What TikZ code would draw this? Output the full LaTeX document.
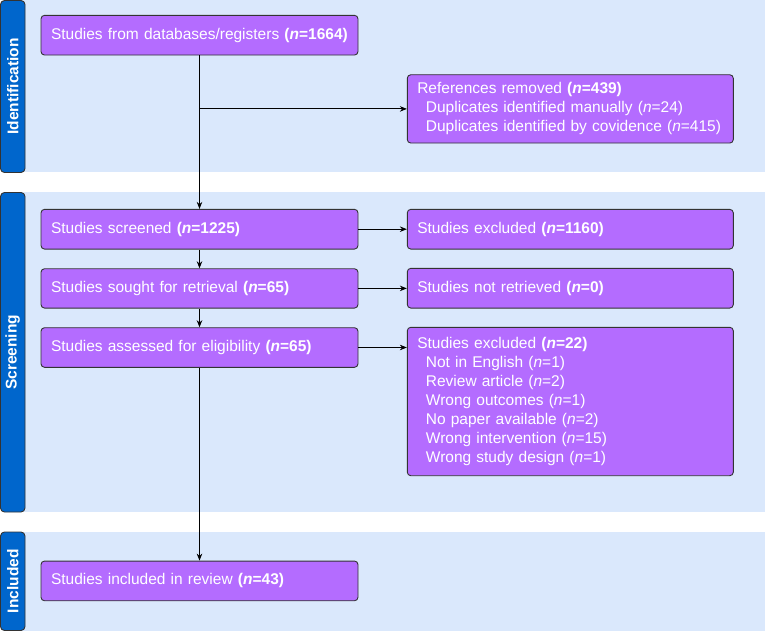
\documentclass[tikz,border=0pt]{standalone}
\usepackage{fontspec}
\setmainfont{Liberation Sans}
\usetikzlibrary{arrows.meta}
\definecolor{bandblue}{HTML}{DAE8FC}
\definecolor{tabblue}{HTML}{0066CC}
\definecolor{boxpurple}{RGB}{180,108,255}
\definecolor{boxline}{HTML}{333333}
\tikzset{
  x=1pt, y=-1pt,
  box/.style={draw=boxline, fill=boxpurple, rounded corners=3.5pt, line width=0.9pt,
    text=white, inner xsep=10pt, inner ysep=0pt, align=left,
    font=\fontsize{15.5}{19}\selectfont},
  leftbox/.style={box, minimum width=317pt, text width=297pt},
  rightbox/.style={box, minimum width=326pt, text width=306pt},
  band/.style={fill=bandblue, draw=none},
  tab/.style={draw=black!80, fill=tabblue, rounded corners=4pt, line width=0.9pt},
  tablabel/.style={text=white, rotate=90, font=\fontsize{15.5}{19}\selectfont\bfseries},
  arr/.style={-{Stealth[length=7pt,width=5.5pt]}, line width=0.8pt, draw=black}
}
\newcommand{\nn}{\textit{n}}
\newcommand{\ind}{\hspace*{8.6pt}}
\begin{document}
\begin{tikzpicture}
\useasboundingbox (0,0) rectangle (765,631);
% bands
\fill[band] (10,0) rectangle (765,172.5);
\fill[band] (10,192.5) rectangle (765,512);
\fill[band] (10,532) rectangle (765,631);
% tabs
\draw[tab] (0.5,0.5) rectangle (25,172.5);
\draw[tab] (0.5,192.5) rectangle (25,512);
\draw[tab] (0.5,532) rectangle (25,630.5);
\node[tablabel] (lid) at (12.75,86.5) {Identification};
\node[tablabel] (lsc) at (12.75,352.25) {Screening};
\node[tablabel] (lin) at (12.75,581.25) {Included};
% boxes
\node[leftbox, minimum height=39.7pt] (src) at (199.5,35.2) {Studies from databases/registers \textbf{(\nn=1664)}};
\node[rightbox, minimum height=68.3pt] (refs) at (570.3,108.9) {References removed \textbf{(\nn=439)}\\
\ind Duplicates identified manually (\nn=24)\\
\ind Duplicates identified by covidence (\nn=415)};
\node[leftbox, minimum height=39.7pt] (scr) at (199.5,229.2) {Studies screened \textbf{(\nn=1225)}};
\node[rightbox, minimum height=39.7pt] (exc1) at (570.3,229.2) {Studies excluded \textbf{(\nn=1160)}};
\node[leftbox, minimum height=39.3pt] (sought) at (199.5,288.4) {Studies sought for retrieval \textbf{(\nn=65)}};
\node[rightbox, minimum height=39.7pt] (notret) at (570.3,288.2) {Studies not retrieved \textbf{(\nn=0)}};
\node[leftbox, minimum height=39.6pt] (assess) at (199.5,347.5) {Studies assessed for eligibility \textbf{(\nn=65)}};
\node[rightbox, minimum height=148.4pt] (exc2) at (570.3,401.5) {Studies excluded \textbf{(\nn=22)}\\
\ind Not in English (\nn=1)\\
\ind Review article (\nn=2)\\
\ind Wrong outcomes (\nn=1)\\
\ind No paper available (\nn=2)\\
\ind Wrong intervention (\nn=15)\\
\ind Wrong study design (\nn=1)};
\node[leftbox, minimum height=39.7pt] (incl) at (199.5,580.9) {Studies included in review \textbf{(\nn=43)}};
% connectors
\draw[arr] (src) -- (scr);
\draw[arr] (src.south |- refs.west) -- (refs.west);
\draw[arr] (scr) -- (sought);
\draw[arr] (sought) -- (assess);
\draw[arr] (assess) -- (incl);
\draw[arr] (scr.east) -- (exc1.west);
\draw[arr] (sought.east) -- (sought.east -| notret.west);
\draw[arr] (assess.east) -- (assess.east -| exc2.west);
\end{tikzpicture}
\end{document}
